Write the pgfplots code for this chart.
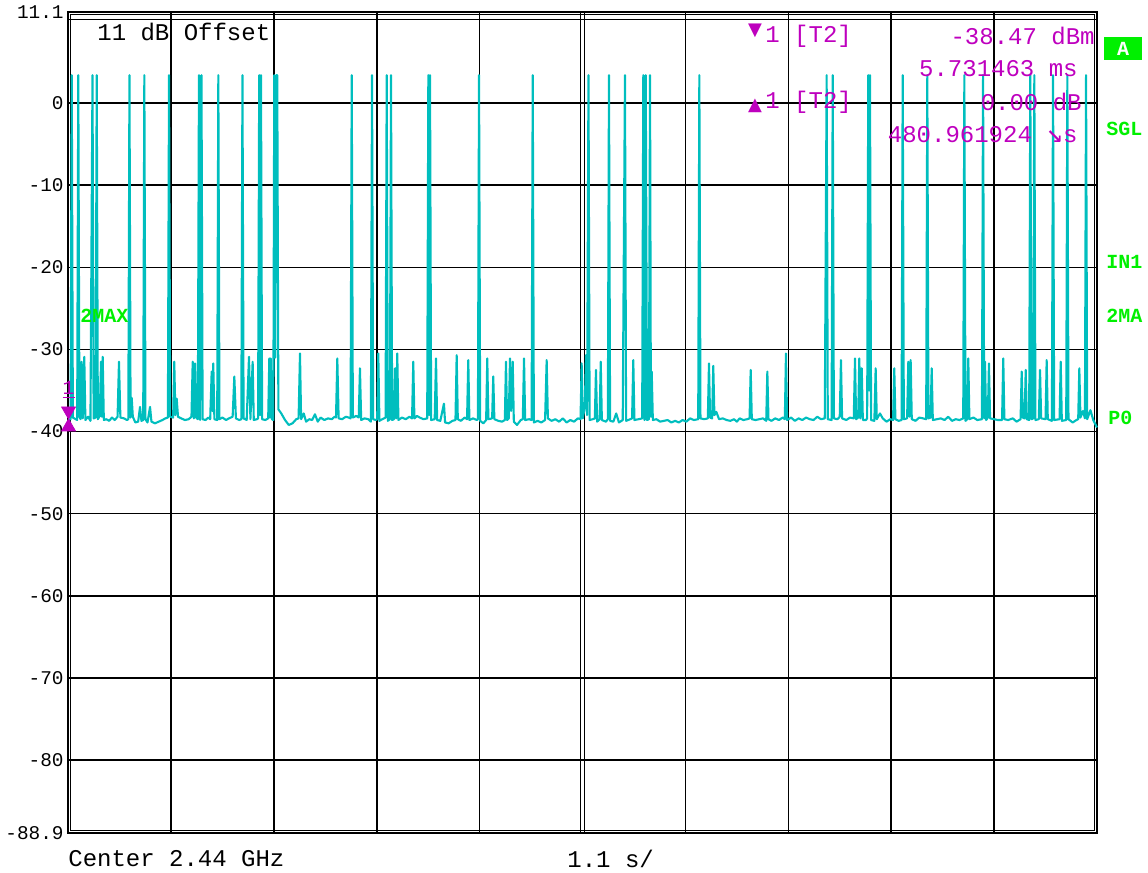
\documentclass[border=0pt]{standalone}
\usepackage{fontspec}
\setmainfont{Liberation Mono}
\setmonofont{Liberation Mono}
\newfontfamily\djv{DejaVu Sans}
\newfontfamily\djvm{DejaVu Sans Mono}
\usepackage{pgfplots}
\pgfplotsset{compat=1.18}
\definecolor{trace}{RGB}{0,190,190}
\definecolor{mkr}{RGB}{190,0,190}
\definecolor{grn}{RGB}{0,240,0}
\begin{document}
\begin{tikzpicture}
\useasboundingbox (-34pt,-20pt) rectangle (540pt,416.5pt);
\begin{axis}[
  at={(0,0)}, anchor=south west,
  scale only axis, width=514.5pt, height=410.5pt,
  xmin=0, xmax=11, ymin=-88.9, ymax=11.1,
  clip=false,
  xtick={1.1,2.2,3.3,4.4,6.6,7.7,8.8,9.9}, xticklabels={},
  ytick={-88.9,-80,-70,-60,-50,-40,-30,-20,-10,0,11.1},
  yticklabels={-88.9,-80,-70,-60,-50,-40,-30,-20,-10,0,11.1},
  yticklabel style={font=\ttfamily\fontsize{9.7}{11}\selectfont, inner sep=1pt, xshift=-1pt},
  tick style={draw=none},
  grid=major,
  major grid style={black, line width=0.8pt},
  axis line style={black, line width=1.1pt},
]
% center double line
\draw[black, line width=0.5pt] ([xshift=-1pt]axis cs:5.5,-88.9) -- ([xshift=-1pt]axis cs:5.5,11.1);
\draw[black, line width=0.5pt] ([xshift=1pt]axis cs:5.5,-88.9) -- ([xshift=1pt]axis cs:5.5,11.1);
% inner frame
\draw[black, line width=0.5pt] ([shift={(1.3pt,1.3pt)}]rel axis cs:0,0) rectangle ([shift={(-1.3pt,-1.3pt)}]rel axis cs:1,1);
\draw[black, line width=0.6pt] ([yshift=-3.9pt]rel axis cs:0,1) -- ([yshift=-3.9pt]rel axis cs:1,1);

\addplot[trace, line width=1.05pt, line join=round] coordinates {
(0.000,-38.6) (0.028,-38.5) (0.040,3.4) (0.052,-38.3) (0.098,-38.6) (0.110,3.4) (0.122,-38.2)
(0.134,-38.5) (0.146,-31.5) (0.158,-38.4) (0.174,-30.9) (0.186,-38.6) (0.215,-38.2) (0.240,-38.7)
(0.262,3.4) (0.274,-38.4) (0.295,-38.3) (0.307,3.4) (0.319,-38.5) (0.340,-38.1) (0.353,-31.5)
(0.362,-38.2) (0.371,-30.9) (0.383,-38.6) (0.410,-38.5) (0.440,-38.7) (0.470,-38.3) (0.500,-38.6)
(0.530,-38.2) (0.545,-31.5) (0.560,-38.3) (0.600,-38.4) (0.630,-38.6) (0.645,-38.5) (0.657,3.4)
(0.669,-38.3) (0.681,-35.9) (0.693,-38.2) (0.720,-38.9) (0.750,-38.8) (0.770,-37.0) (0.785,-38.7)
(0.804,-38.6) (0.816,3.4) (0.828,-38.5) (0.850,-38.9) (0.877,-37.0) (0.892,-38.8) (0.930,-39.0)
(0.970,-38.8) (1.010,-38.6) (1.040,-38.4) (1.068,-38.3) (1.080,3.4) (1.092,-38.2) (1.124,-38.3)
(1.136,-31.5) (1.148,-38.0) (1.162,-36.0) (1.176,-38.2) (1.210,-38.4) (1.250,-38.6) (1.290,-38.5)
(1.320,-38.2) (1.333,-31.5) (1.345,-38.4) (1.358,-31.7) (1.370,-38.3) (1.388,-38.5) (1.400,3.4)
(1.412,-38.6) (1.427,3.4) (1.439,-38.5) (1.470,-38.6) (1.500,-38.3) (1.520,-38.5) (1.536,-32.7)
(1.545,-37.5) (1.553,-31.7) (1.565,-38.5) (1.595,-38.6) (1.607,3.4) (1.619,-38.5) (1.650,-38.3)
(1.690,-38.6) (1.720,-38.4) (1.760,-38.2) (1.778,-33.3) (1.795,-38.4) (1.830,-38.6) (1.853,-38.5)
(1.865,3.4) (1.877,-38.4) (1.910,-38.6) (1.935,-30.9) (1.950,-38.5) (1.974,-31.5) (1.986,-38.6)
(2.020,-38.5) (2.032,-38.4) (2.044,3.4) (2.054,-38.0) (2.063,3.4) (2.075,-38.5) (2.110,-38.6)
(2.140,-38.4) (2.152,-31.1) (2.160,-38.3) (2.167,-31.1) (2.180,-38.5) (2.195,-38.6) (2.205,3.4)
(2.215,-31.0) (2.225,3.4) (2.237,3.4) (2.249,-37.3) (2.280,-37.8) (2.320,-38.6) (2.360,-39.2)
(2.400,-39.0) (2.440,-38.5) (2.465,-38.4) (2.480,-30.5) (2.492,-38.5) (2.520,-37.8) (2.545,-38.8)
(2.580,-38.5) (2.610,-38.6) (2.640,-37.9) (2.670,-38.8) (2.700,-38.3) (2.740,-38.6) (2.780,-38.4)
(2.820,-38.5) (2.850,-38.2) (2.865,-38.3) (2.879,-31.1) (2.893,-38.4) (2.930,-38.5) (2.970,-38.2)
(3.000,-38.3) (3.021,-38.4) (3.033,3.4) (3.045,-38.3) (3.080,-38.1) (3.108,-38.3) (3.121,-32.3)
(3.134,-38.6) (3.170,-38.4) (3.210,-38.5) (3.238,-38.8) (3.250,3.4) (3.262,-38.5) (3.290,-38.6)
(3.305,-38.5) (3.317,-30.5) (3.329,-38.7) (3.360,-38.5) (3.395,-38.3) (3.407,3.4) (3.419,-38.7)
(3.441,-38.5) (3.453,3.4) (3.465,-38.6) (3.484,-38.5) (3.496,-32.3) (3.508,-38.4) (3.520,-30.5)
(3.532,-38.6) (3.570,-38.3) (3.610,-38.5) (3.650,-38.2) (3.678,-38.4) (3.691,-31.5) (3.703,-38.4)
(3.730,-38.1) (3.760,-38.3) (3.800,-38.5) (3.840,-38.4) (3.852,3.4) (3.861,-38.0) (3.870,3.4)
(3.882,-38.6) (3.920,-38.5) (3.934,-31.1) (3.946,-38.6) (3.980,-38.7) (4.019,-36.6) (4.031,-38.9)
(4.070,-39.0) (4.110,-38.7) (4.142,-38.6) (4.155,-30.7) (4.167,-38.5) (4.200,-38.7) (4.240,-38.3)
(4.266,-38.5) (4.279,-31.3) (4.291,-38.6) (4.330,-38.4) (4.370,-38.6) (4.382,-38.5) (4.394,3.4)
(4.406,-38.7) (4.440,-39.0) (4.470,-38.6) (4.482,-31.1) (4.494,-38.5) (4.534,-38.4) (4.546,-33.3)
(4.558,-38.5) (4.600,-38.7) (4.640,-38.8) (4.670,-38.6) (4.682,-31.5) (4.694,-38.6) (4.712,-38.4)
(4.725,-31.1) (4.737,-37.5) (4.754,-31.5) (4.766,-38.8) (4.800,-39.2) (4.840,-38.6) (4.862,-38.5)
(4.875,-31.1) (4.887,-38.6) (4.930,-38.5) (4.956,-38.6) (4.968,3.4) (4.980,-38.9) (5.020,-38.7)
(5.060,-38.9) (5.100,-38.6) (5.117,-31.3) (5.130,-38.4) (5.170,-38.7) (5.210,-38.5) (5.250,-38.8)
(5.290,-38.4) (5.330,-38.9) (5.370,-38.6) (5.410,-38.8) (5.450,-38.4) (5.479,-38.5) (5.491,-31.7)
(5.503,-38.4) (5.525,-37.0) (5.537,-30.7) (5.549,-38.0) (5.564,3.4) (5.576,-38.6) (5.610,-38.5)
(5.632,-38.4) (5.644,-32.5) (5.656,-38.8) (5.683,-38.5) (5.695,-31.5) (5.707,-38.6) (5.750,-38.8)
(5.771,-38.5) (5.783,3.4) (5.795,-38.7) (5.830,-38.8) (5.860,-37.8) (5.890,-38.9) (5.930,-38.6)
(5.954,3.4) (5.966,-38.7) (6.010,-38.5) (6.030,-38.4) (6.043,-31.3) (6.055,-38.6) (6.100,-38.5)
(6.138,-38.4) (6.150,3.4) (6.163,-38.6) (6.176,3.4) (6.190,-38.6) (6.210,-38.5) (6.222,3.4)
(6.231,-38.2) (6.240,-32.7) (6.252,-38.6) (6.290,-38.5) (6.330,-38.8) (6.370,-38.7) (6.410,-38.6)
(6.450,-38.9) (6.490,-38.7) (6.530,-38.9) (6.570,-38.6) (6.610,-38.8) (6.650,-38.4) (6.690,-38.6)
(6.737,-38.5) (6.749,3.4) (6.761,-38.4) (6.800,-38.5) (6.840,-38.4) (6.852,-31.7) (6.864,-38.3)
(6.886,-38.4) (6.898,-32.0) (6.910,-38.0) (6.930,-37.6) (6.960,-38.5) (7.000,-38.4) (7.040,-38.6)
(7.080,-38.7) (7.120,-38.5) (7.150,-38.8) (7.180,-38.4) (7.220,-38.6) (7.260,-38.5) (7.286,-38.4)
(7.298,-32.5) (7.310,-38.5) (7.350,-38.6) (7.390,-38.5) (7.430,-38.4) (7.464,-38.7) (7.476,-32.7)
(7.488,-38.5) (7.520,-38.7) (7.560,-38.4) (7.600,-38.6) (7.640,-38.3) (7.663,-38.5) (7.675,-30.5)
(7.687,-38.6) (7.730,-38.3) (7.770,-38.7) (7.810,-38.4) (7.850,-38.6) (7.890,-38.3) (7.930,-38.5)
(7.970,-38.6) (8.010,-38.2) (8.050,-38.5) (8.090,-38.4) (8.110,3.4) (8.122,-38.5) (8.163,-38.6)
(8.175,3.4) (8.187,-38.4) (8.225,-38.5) (8.250,-38.2) (8.263,-31.3) (8.275,-38.4) (8.320,-38.6)
(8.360,-38.3) (8.400,-38.4) (8.413,-31.1) (8.425,-38.5) (8.447,-38.3) (8.459,-31.1) (8.471,-38.4)
(8.485,-32.3) (8.497,-38.6) (8.530,-38.6) (8.543,-38.4) (8.555,3.4) (8.564,-35.0) (8.573,3.4)
(8.585,-38.6) (8.620,-38.7) (8.634,-32.3) (8.646,-38.5) (8.680,-37.8) (8.710,-38.4) (8.750,-38.8)
(8.790,-38.5) (8.820,-38.6) (8.833,-32.3) (8.845,-38.5) (8.880,-38.7) (8.911,-38.6) (8.923,3.4)
(8.935,-38.5) (8.970,-38.4) (8.983,-31.5) (8.995,-38.2) (9.008,-31.3) (9.020,-38.5) (9.060,-38.7)
(9.100,-38.3) (9.140,-38.4) (9.174,-38.5) (9.186,3.4) (9.198,-38.4) (9.220,-38.3) (9.233,-32.3)
(9.245,-38.6) (9.290,-38.5) (9.330,-38.4) (9.370,-38.6) (9.410,-38.2) (9.450,-38.7) (9.490,-38.5)
(9.530,-38.6) (9.570,-38.4) (9.582,3.4) (9.594,-38.7) (9.612,-38.5) (9.624,-31.1) (9.636,-38.5)
(9.680,-38.3) (9.720,-38.6) (9.770,-38.5) (9.782,3.4) (9.794,-38.4) (9.803,-31.5) (9.815,-38.6)
(9.833,-38.3) (9.845,-31.7) (9.857,-38.4) (9.900,-38.5) (9.940,-38.6) (9.985,-38.6) (9.998,-31.1)
(10.010,-38.5) (10.050,-38.6) (10.100,-38.4) (10.140,-38.8) (10.183,-38.5) (10.195,-32.7) (10.207,-38.3)
(10.226,-38.4) (10.238,-32.5) (10.250,-38.5) (10.275,-38.6) (10.287,3.4) (10.300,-38.5) (10.318,-38.4)
(10.330,3.4) (10.342,-38.6) (10.378,-38.5) (10.391,-32.5) (10.403,-38.4) (10.450,-38.5) (10.462,-31.3)
(10.474,-38.5) (10.518,-38.7) (10.530,3.4) (10.542,-38.6) (10.600,-38.5) (10.612,-31.5) (10.624,-38.7)
(10.671,-38.6) (10.683,3.4) (10.695,-38.5) (10.740,-38.9) (10.780,-38.6) (10.799,-38.5) (10.811,-32.3)
(10.823,-38.3) (10.850,-37.5) (10.871,-38.4) (10.883,3.4) (10.895,-38.5) (10.930,-37.4) (10.960,-38.6)
(11.000,-39.5)
};
% marker 1 (hourglass)
\addplot[only marks, mark=triangle*, mark size=4pt, mkr, mark options={yshift=4pt, rotate=180}] coordinates {(0.0057,-38.47)};
\addplot[only marks, mark=triangle*, mark size=4pt, mkr, mark options={yshift=-4pt}] coordinates {(0.0057,-38.47)};
\node[mkr, font=\ttfamily\fontsize{10}{11}\selectfont, inner sep=0pt, anchor=south] at ([yshift=10pt]axis cs:0.0057,-38.47) {\underline{1}};
\end{axis}

% texts (1 px = 0.5 pt, origin at lower-left of plot box)
\node[anchor=west, inner sep=0pt, font=\ttfamily\fontsize{12}{14}\selectfont] at (14.5pt,400.5pt) {11 dB Offset};
\node[anchor=west, inner sep=0pt, font=\ttfamily\fontsize{12}{14}\selectfont] at (0pt,-13pt) {Center 2.44 GHz};
\node[anchor=west, inner sep=0pt, font=\ttfamily\fontsize{12}{14}\selectfont] at (249.5pt,-13pt) {1.1 s/};

\begin{scope}[mkr, every node/.style={inner sep=0pt, font=\ttfamily\fontsize{12}{14}\selectfont}]
\node[font=\djv\fontsize{9}{10}\selectfont] at (343.5pt,401pt) {▼};
\node[anchor=west] at (348.5pt,398.5pt) {1 [T2]};
\node[anchor=east] at (513.5pt,398.5pt) {-38.47 dBm};
\node[anchor=east] at (505pt,382pt) {5.731463 ms};
\node[font=\djv\fontsize{9}{10}\selectfont] at (343.5pt,363.5pt) {▲};
\node[anchor=west] at (348.5pt,365.5pt) {1 [T2]};
\node[anchor=east] at (507pt,365.5pt) {0.00 dB};
\node[anchor=east] at (505pt,349pt) {480.961924 {\djvm\fontsize{14}{15}\selectfont ↘}s};
\end{scope}

\begin{scope}[every node/.style={inner sep=0pt, anchor=west, text=grn, font=\ttfamily\bfseries\fontsize{10}{12}\selectfont}]
\node[fill=grn, text=white, anchor=center, minimum width=19pt, minimum height=11.5pt] at (527.5pt,392pt) {A};
\node at (519pt,352pt) {SGL};
\node at (519pt,285.5pt) {IN1};
\node at (519pt,258.5pt) {2MA};
\node at (520pt,207.5pt) {P0};
\node at (6pt,258.5pt) {2MAX};
\end{scope}
\end{tikzpicture}
\end{document}
